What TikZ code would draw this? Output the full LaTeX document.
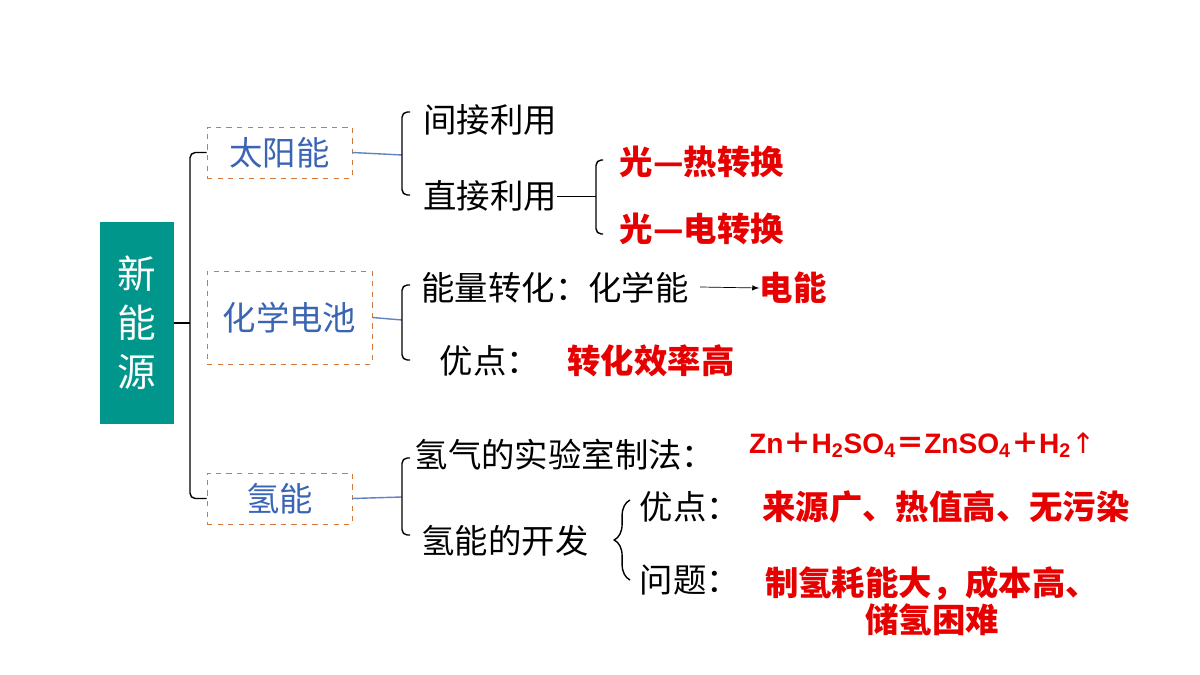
\documentclass[tikz,border=0pt]{standalone}
\usepackage{fontspec}
\setmainfont{Noto Sans CJK SC}
\newfontfamily\formfont{Liberation Sans}
\newfontfamily\symfont{DejaVu Sans}
\usetikzlibrary{decorations.pathreplacing}
\definecolor{tealbox}{RGB}{0,150,140}
\definecolor{boxblue}{RGB}{58,100,180}
\definecolor{dashorange}{RGB}{210,120,60}
\definecolor{hotred}{RGB}{230,0,0}
\tikzset{
	txt/.style={font=\fontsize{19}{22}\selectfont, inner sep=0pt},
	red/.style={txt, text=hotred, font=\fontsize{19}{22}\selectfont\bfseries},
	topic/.style={draw=dashorange, dashed, text=boxblue, font=\fontsize{19}{22}\selectfont, inner sep=0pt},
	brk/.style={line width=0.8pt, rounded corners=3pt},
	blu/.style={draw=boxblue!80, line width=0.8pt}
}
\begin{document}
\begin{tikzpicture}[x=0.02cm,y=-0.02cm]
	\useasboundingbox (0,0) rectangle (1200,675);
	
	\node (root) [fill=tealbox, minimum width=1.48cm, minimum height=4.04cm, text=white,
		font=\fontsize{22}{28}\selectfont, align=center] at (137,323) {新\\能\\源};
	
	\node (sun) [topic, minimum width=2.9cm, minimum height=1.02cm] at (279.5,152.5) {太阳能};
	\node (bat) [topic, minimum width=3.3cm, minimum height=1.86cm] at (289.5,317.5) {化学电池};
	\node (hyd) [topic, minimum width=2.9cm, minimum height=1.02cm] at (279.5,498.5) {氢能};
	
	% main bracket
	\coordinate (m) at (190,323);
	\draw[line width=0.8pt] (root.east) -- (m);
	\draw[brk] (sun.west) -| (m) |- (hyd.west);
	
	% solar
	\node (ind) [txt] at (490,120) {间接利用};
	\node (dir) [txt] at (490,196) {直接利用};
	\draw[blu] (sun.east) -- (402,155);
	\draw[brk] (410,112) -| (402,195) -- (410,195);
	\node (heat) [red] at (702,162) {光—热转换};
	\node (elec) [red] at (702,229) {光—电转换};
	\draw (dir.east) -- (596,196);
	\draw[brk] (603,160) -| (596,234) -- (603,234);
	
	% battery
	\draw[blu] (bat.east) -- (402,320);
	\draw[brk] (410,285) -| (402,360) -- (410,360);
	\node (conv) [txt] at (555,288) {能量转化：化学能};
	\node (ee) [red] at (793,288) {电能};
	\draw[->, >=latex] (700,287) -- (ee.west);
	\node (adv) [txt] at (490,361) {优点：};
	\node (eff) [red] at (651,361) {转化效率高};
	
	% hydrogen
	\draw[blu] (hyd.east) -- (402,497);
	\draw[brk] (410,458) -| (402,535) -- (410,535);
	\node (lab) [txt] at (565,455) {氢气的实验室制法：};
	\node (eq) [red, font=\fontsize{16}{19}\selectfont\bfseries] at (922,445)
		{{\formfont Zn}＋{\formfont H\textsubscript{2}SO\textsubscript{4}}＝{\formfont ZnSO\textsubscript{4}}＋{\formfont H\textsubscript{2}}{\symfont\mdseries ↑}};
	\node (dev) [txt] at (505,541) {氢能的开发};
	\draw[line width=0.8pt, decorate, decoration={brace, amplitude=9pt}]
		(630,580) -- (630,500);
	\node (adv2) [txt] at (690,507) {优点：};
	\node (pro) [red] at (946,507) {来源广、热值高、无污染};
	\node (prob) [txt] at (690,580) {问题：};
	\node (cost) [red, align=center, font=\fontsize{19}{21}\selectfont\bfseries] at (932,601)
		{制氢耗能大，成本高、\\储氢困难};
\end{tikzpicture}
\end{document}
